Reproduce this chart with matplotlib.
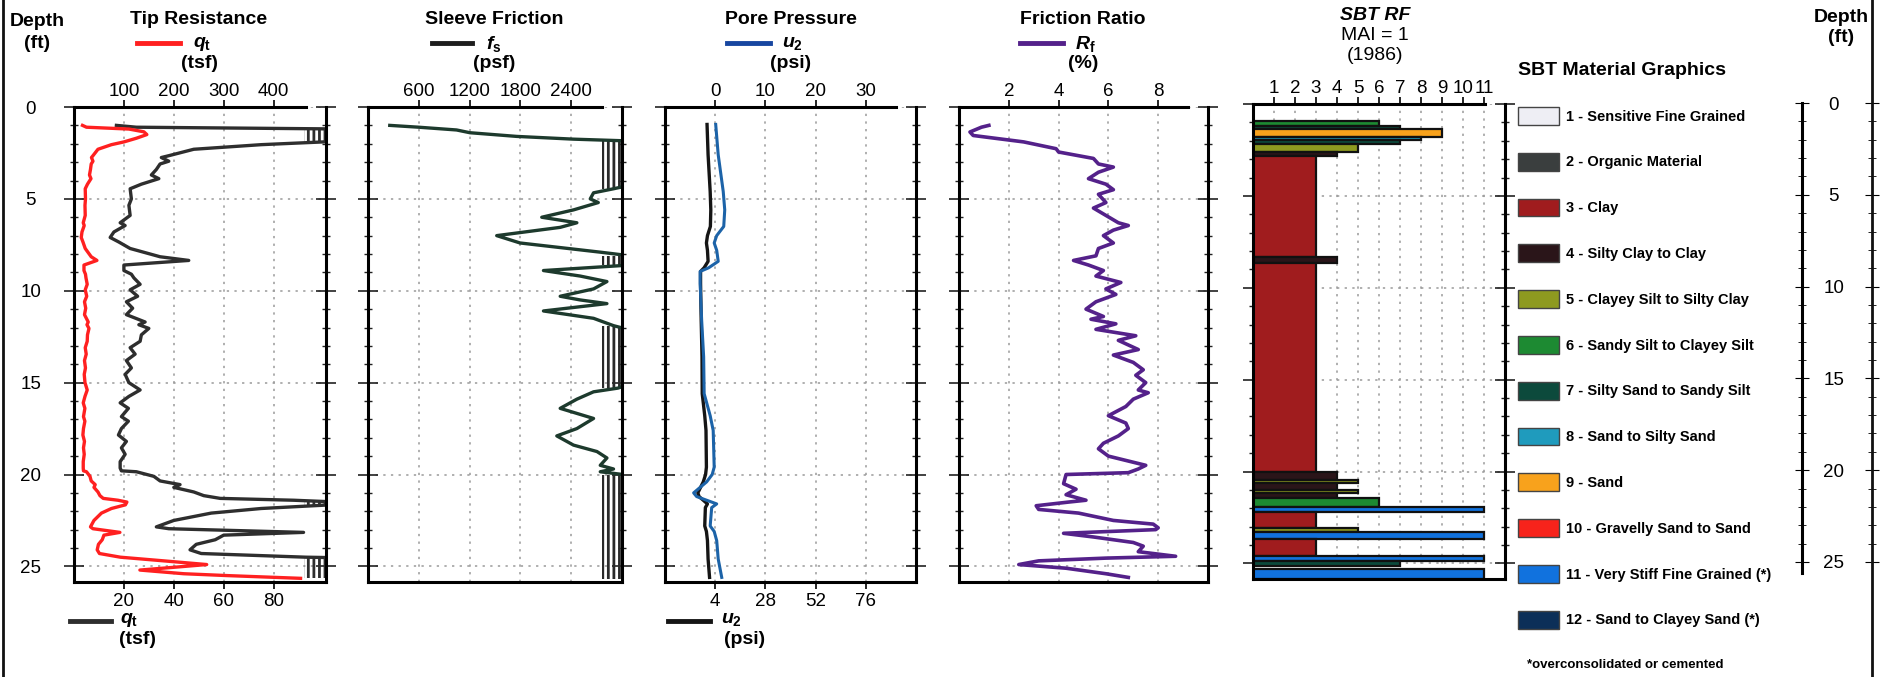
import numpy as np
import matplotlib.pyplot as plt
from matplotlib.lines import Line2D
from matplotlib.patches import Patch
from matplotlib.ticker import MultipleLocator, FixedLocator

plt.rcParams['font.family'] = ['Liberation Sans', 'DejaVu Sans']
plt.rcParams['mathtext.fontset'] = 'custom'
plt.rcParams['mathtext.it'] = 'Liberation Sans:italic:bold'
plt.rcParams['mathtext.rm'] = 'Liberation Sans:bold'
plt.rcParams['hatch.linewidth'] = 2.0

qt_depth = np.array([1.0, 1.1, 1.2, 1.35, 1.5, 1.7, 1.9, 2.05, 2.3, 2.65, 2.75, 2.95, 3.1, 3.4, 3.7,
                     3.9, 4.2, 4.45, 5.0, 5.35, 5.9, 6.3, 6.45, 6.8, 7.1, 7.35, 7.7, 8.15, 8.35, 8.6,
                     8.9, 9.1, 9.3, 9.65, 9.95, 10.3, 10.6, 10.95, 11.3, 11.7, 11.85, 12.05, 12.4, 12.75,
                     13.1, 13.45, 13.8, 14.2, 14.55, 15.0, 15.4, 15.75, 16.1, 16.4, 16.85, 17.1, 17.5,
                     17.85, 18.2, 18.55, 18.9, 19.3, 19.65, 19.8, 19.85, 20.1, 20.35, 20.55, 20.7, 20.95,
                     21.15, 21.3, 21.4, 21.5, 21.65, 21.85, 22.1, 22.5, 22.85, 22.95, 23.15, 23.3, 23.55,
                     23.8, 24.1, 24.3, 24.5, 24.7, 24.9, 25.05, 25.2, 25.4, 25.5, 25.65])
qt = np.array([17, 25, 110, 140, 146, 125, 100, 75, 48, 38, 35, 38, 34.5, 33, 31,
               34, 27, 22.5, 23, 22, 22.5, 18.5, 20.5, 16, 14.5, 18, 22.5, 34.5, 46, 20,
               20, 23, 24, 26.5, 22.5, 25.5, 21, 23.5, 21, 28.5, 26, 30, 27, 26.5,
               22.5, 24.5, 21, 23, 20.5, 22, 26.5, 22, 18.5, 21.8, 19, 21.8, 19,
               17.8, 21, 19, 20.5, 18.5, 18.5, 19, 25, 32, 34.5, 42.5, 40, 48,
               52, 58.6, 88, 106, 103, 75, 55, 40, 33, 38, 92, 60, 56.6,
               49, 46.5, 51, 93, 180, 266, 200, 132, 220, 306, 454])

fs_depth = np.array([1.0, 1.1, 1.25, 1.4, 1.6, 1.75, 1.85, 2.5, 3.5, 4.35, 4.45, 4.67, 5.0, 5.2, 5.6,
                     6.0, 6.3, 6.55, 7.0, 7.4, 7.65, 7.9, 8.1, 8.6, 8.9, 9.2, 9.5, 9.9, 10.3, 10.5,
                     10.7, 11.1, 11.5, 11.9, 12.2, 13.5, 15.0, 15.3, 15.5, 15.9, 16.4, 16.95, 17.5,
                     17.9, 18.4, 18.75, 19.1, 19.5, 19.7, 19.85, 20.05, 22.0, 24.0, 25.7])
fs = np.array([257, 600, 1046, 1204, 1756, 2427, 3100, 3200, 3150, 3000, 2900, 2664, 2625, 2720, 2427,
               2052, 2467, 2270, 1520, 1796, 2270, 2743, 3100, 3100, 2072, 2506, 2822, 2664, 2270, 2506,
               2822, 2072, 2664, 2900, 3150, 3200, 3150, 2950, 2664, 2467, 2270, 2664, 2467,
               2230, 2427, 2704, 2822, 2743, 2900, 2743, 3100, 3200, 3150, 3200])

u2_depth = np.array([0.95, 2.6, 4.6, 5.6, 6.5, 7.0, 7.4, 7.8, 8.4, 8.75, 8.95, 9.6, 11.6, 13.6, 15.6,
                     16.8, 17.6, 19.6, 20.0, 20.4, 20.7, 21.0, 21.2, 21.4, 21.6, 21.8, 22.8, 23.1,
                     23.6, 24.6, 25.6])
u2 = np.array([0.1, 0.6, 1.6, 1.9, 1.7, 0.3, -0.2, 0.3, 0.6, -1.3, -3.0, -3.0, -2.7, -2.3, -2.2,
               -1.0, -0.4, -0.2, -0.6, -1.7, -3.0, -4.3, -3.7, -1.7, 0.3, -0.7, -1.0, -0.2,
               0.3, 0.6, 1.3])

rf_depth = np.array([1.0, 1.1, 1.36, 1.55, 1.9, 2.27, 2.45, 2.8, 3.1, 3.27, 3.55, 3.9, 4.2, 4.5, 4.75,
                     5.2, 5.5, 5.9, 6.3, 6.45, 6.7, 7.0, 7.4, 7.7, 8.1, 8.35, 8.6, 8.9, 9.2, 9.55,
                     9.9, 10.2, 10.6, 11.0, 11.4, 11.55, 11.8, 12.1, 12.45, 12.7, 13.2, 13.5, 13.9,
                     14.3, 14.6, 15.0, 15.4, 15.55, 15.9, 16.3, 16.8, 17.2, 17.5, 17.9, 18.3, 18.6,
                     19.0, 19.4, 19.5, 19.7, 19.9, 20.0, 20.5, 20.8, 21.1, 21.4, 21.5, 21.7, 21.9,
                     22.1, 22.5, 22.7, 22.9, 23.0, 23.2, 23.4, 23.7, 23.9, 24.2, 24.45, 24.55, 24.7,
                     24.9, 25.1, 25.4, 25.6])
rf = np.array([1.2, 0.9, 0.44, 0.57, 2.6, 3.9, 4.0, 5.4, 5.6, 6.2, 5.6, 5.2, 5.9, 6.2, 5.6,
               5.9, 5.4, 5.9, 6.4, 6.8, 6.2, 5.8, 6.2, 5.6, 5.5, 4.6, 5.2, 5.8, 5.5, 6.5,
               5.9, 6.3, 5.5, 5.1, 5.8, 5.3, 6.3, 5.5, 7.1, 6.4, 7.2, 6.2, 7.0,
               7.4, 7.1, 7.5, 7.2, 7.6, 7.0, 6.7, 6.0, 6.7, 6.8, 6.4, 5.8, 5.6,
               6.0, 7.2, 7.5, 7.2, 6.8, 4.3, 4.2, 4.7, 4.3, 5.1, 4.4, 3.1, 3.2,
               4.8, 6.2, 7.8, 8.0, 7.9, 4.2, 5.4, 7.0, 7.4, 7.2, 8.7, 5.9, 3.2,
               2.4, 4.3, 5.9, 6.8])

sbt_top = np.array([0.95, 1.2, 1.35, 1.8, 1.95, 2.15, 2.6, 2.85, 8.35, 8.65, 20.0, 20.45, 20.65,
                    21.0, 21.15, 21.45, 21.95, 22.2, 23.1, 23.3, 23.7, 24.6, 24.85, 25.3])
sbt_bot = np.array([1.2, 1.35, 1.8, 1.95, 2.15, 2.6, 2.85, 8.35, 8.65, 20.0, 20.45, 20.65, 21.0,
                    21.15, 21.45, 21.95, 22.2, 23.1, 23.3, 23.7, 24.6, 24.85, 25.15, 25.85])
sbt_zone = np.array([6, 7, 9, 8, 7, 5, 4, 3, 4, 3, 4, 5, 4, 5, 4, 6, 11, 3, 5, 11, 3, 11, 7, 11])

zone_labels = ['1 - Sensitive Fine Grained', '2 - Organic Material', '3 - Clay',
               '4 - Silty Clay to Clay', '5 - Clayey Silt to Silty Clay',
               '6 - Sandy Silt to Clayey Silt', '7 - Silty Sand to Sandy Silt',
               '8 - Sand to Silty Sand', '9 - Sand', '10 - Gravelly Sand to Sand',
               '11 - Very Stiff Fine Grained (*)', '12 - Sand to Clayey Sand (*)']
zone_colors = ['#eeeef4', '#3a3e3e', '#a01c1e', '#2a1519', '#8e9a20', '#1d8a32',
               '#0c4a3c', '#1f9bbd', '#f8a21c', '#f7231b', '#1172de', '#0c2f58']

# ---- layout ----
W, H = 1887, 677
fig = plt.figure(figsize=(W / 100, H / 100), dpi=100)
TICK = 13.5
DMAX = 25.85


def box(x0, y0, x1, y1):
    return [x0 / W, 1 - y1 / H, (x1 - x0) / W, (y1 - y0) / H]


def panel(x0, x1, y0=107, y1=582):
    ax = fig.add_axes(box(x0, y0, x1, y1))
    ax.set_ylim(DMAX, 0)
    ax.yaxis.set_major_locator(MultipleLocator(5))
    ax.yaxis.set_minor_locator(MultipleLocator(1))
    ax.tick_params(axis='y', which='both', left=True, right=True, labelleft=False,
                   direction='inout', color='#222')
    ax.tick_params(axis='y', which='major', length=14, width=1.2)
    ax.tick_params(axis='y', which='minor', length=6, width=1.0)
    ax.tick_params(axis='x', labelsize=TICK, length=5, width=1.2, pad=3)
    for s in ax.spines.values():
        s.set_linewidth(2.2)
    ax.grid(True, which='major', color='#9a9a9a', linestyle=(0, (1.5, 3.5)), linewidth=1.1)
    ax.set_axisbelow(True)
    return ax


def top_axis(ax, lo, hi, ticks):
    # x axis on top, spine drawn only over ~92 % of the width like the original log
    ax.set_xlim(lo, hi)
    ax.xaxis.set_major_locator(FixedLocator(ticks))
    ax.xaxis.tick_top()
    ax.spines['top'].set_bounds(lo, lo + 0.92 * (hi - lo))
    ax.tick_params(axis='x', top=True, labeltop=True, pad=0)


def header(cx, title, sym, unit, color, lx0, lx1, sx):
    fig.text(cx / W, 1 - 20 / H, title, ha='center', va='center', fontsize=14, fontweight='bold')
    fig.add_artist(Line2D([lx0 / W, lx1 / W], [1 - 43 / H] * 2, color=color, lw=3.5))
    fig.text(sx / W, 1 - 44 / H, sym, ha='left', va='center', fontsize=14)
    fig.text(cx / W, 1 - 64 / H, unit, ha='center', va='center', fontsize=14, fontweight='bold')


# Tip resistance
ax1 = panel(74, 326)
ax1.set_xlim(0, 101)
ax1.xaxis.set_major_locator(FixedLocator([20, 40, 60, 80]))
ax1.spines['top'].set_visible(False)
ax1.plot(qt, qt_depth, color='#2e2e2e', lw=2.4, clip_on=True)
ax1.fill_betweenx(qt_depth, 92, 100.5, where=qt > 92, facecolor='none', edgecolor='#2e2e2e',
                  hatch='|||', linewidth=0)
ax1.tick_params(axis='y', labelleft=True, labelsize=TICK, pad=24)
for lbl in ax1.get_yticklabels():
    lbl.set_horizontalalignment('center')
ax1t = ax1.twiny()
top_axis(ax1t, 0, 505, [100, 200, 300, 400])
for s in ['left', 'right', 'bottom']:
    ax1t.spines[s].set_visible(False)
ax1t.spines['top'].set_linewidth(2.2)
ax1t.tick_params(axis='x', labelsize=TICK, length=5, width=1.2)
ax1t.plot(qt, qt_depth, color='#ff2020', lw=2.4)
header(199, 'Tip Resistance', r'$q_\mathrm{t}$', '(tsf)', '#ff2020', 137, 180, 193)
fig.add_artist(Line2D([70 / W, 111 / W], [1 - 621 / H] * 2, color='#2e2e2e', lw=3.5))
fig.text(120 / W, 1 - 620 / H, r'$q_\mathrm{t}$', ha='left', va='center', fontsize=14)
fig.text(138 / W, 1 - 639 / H, '(tsf)', ha='center', va='center', fontsize=14, fontweight='bold')

# Sleeve friction
ax2 = panel(368, 622)
top_axis(ax2, 0, 3000, [600, 1200, 1800, 2400])
ax2.tick_params(axis='x', bottom=False)
ax2.plot(fs, fs_depth, color='#1d3a2d', lw=2.4)
ax2.fill_betweenx(fs_depth, 2760, 2990, where=fs > 2760, facecolor='none', edgecolor='#2a2a2a',
                  hatch='|||', linewidth=0)
header(494, 'Sleeve Friction', r'$f_\mathrm{s}$', '(psf)', '#1d1d1d', 432, 472, 486)

# Pore pressure
ax3 = panel(665, 916)
ax3.set_xlim(-20, 100)
ax3.xaxis.set_major_locator(FixedLocator([4, 28, 52, 76]))
ax3.spines['top'].set_visible(False)
ax3.plot(u2, u2_depth, color='#151515', lw=2.4)
ax3t = ax3.twiny()
top_axis(ax3t, -10, 40, [0, 10, 20, 30])
for s in ['left', 'right', 'bottom']:
    ax3t.spines[s].set_visible(False)
ax3t.spines['top'].set_linewidth(2.2)
ax3t.tick_params(axis='x', labelsize=TICK, length=5, width=1.2)
ax3t.plot(u2, u2_depth, color='#1c63a8', lw=2.2)
header(791, 'Pore Pressure', r'$u_\mathrm{2}$', '(psi)', '#1746a0', 727, 770, 782)
fig.add_artist(Line2D([668 / W, 710 / W], [1 - 621 / H] * 2, color='#151515', lw=3.5))
fig.text(721 / W, 1 - 619 / H, r'$u_\mathrm{2}$', ha='left', va='center', fontsize=14)
fig.text(745 / W, 1 - 639 / H, '(psi)', ha='center', va='center', fontsize=14, fontweight='bold')

# Friction ratio
ax4 = panel(959, 1208)
top_axis(ax4, 0, 10, [2, 4, 6, 8])
ax4.tick_params(axis='x', bottom=False)
ax4.plot(rf, rf_depth, color='#54218a', lw=2.6)
header(1083, 'Friction Ratio', r'$R_\mathrm{f}$', '(%)', '#54218a', 1020, 1063, 1075)

# SBT RF
ax5 = panel(1253, 1505, 104, 579)
top_axis(ax5, 0, 12, list(range(1, 12)))
ax5.tick_params(axis='x', bottom=False)
ax5.barh(sbt_top, sbt_zone, height=sbt_bot - sbt_top, left=0, align='edge',
         color=[zone_colors[z - 1] for z in sbt_zone], edgecolor='#111', linewidth=1.6)
fig.text(1375 / W, 1 - 16 / H, 'SBT RF', ha='center', va='center', fontsize=14,
         fontweight='bold', fontstyle='italic')
fig.text(1375 / W, 1 - 35 / H, 'MAI = 1', ha='center', va='center', fontsize=14)
fig.text(1375 / W, 1 - 55 / H, '(1986)', ha='center', va='center', fontsize=14)

# legend of soil behaviour types
handles = [Patch(facecolor=c, edgecolor='#444', linewidth=1) for c in zone_colors]
fig.legend(handles, zone_labels, loc='upper left', bbox_to_anchor=(1518 / W, 1 - 62 / H),
           frameon=False, prop=dict(weight='bold', size=10.5),
           title='SBT Material Graphics', title_fontproperties=dict(weight='bold', size=14),
           alignment='left', handlelength=2.8, handleheight=1.5, labelspacing=1.92,
           handletextpad=0.5, borderpad=0, borderaxespad=0)
fig.text(1527 / W, 1 - 665 / H, '*overconsolidated or cemented', ha='left', va='center',
         fontsize=9.5, fontweight='bold')

# depth headers, right depth scale and page borders
fig.text(37 / W, 1 - 21 / H, 'Depth', ha='center', va='center', fontsize=14, fontweight='bold')
fig.text(37 / W, 1 - 43 / H, '(ft)', ha='center', va='center', fontsize=14, fontweight='bold')
fig.text(1841 / W, 1 - 17 / H, 'Depth', ha='center', va='center', fontsize=14, fontweight='bold')
fig.text(1841 / W, 1 - 38 / H, '(ft)', ha='center', va='center', fontsize=14, fontweight='bold')

axr = fig.add_axes(box(1802, 103, 1872, 573))
axr.set_ylim(25.6, 0)
axr.set_xticks([])
axr.yaxis.set_major_locator(MultipleLocator(5))
axr.yaxis.set_minor_locator(MultipleLocator(1))
axr.tick_params(axis='y', which='both', left=True, right=True, direction='inout',
                labelsize=TICK, pad=-28)
axr.tick_params(axis='y', which='major', length=10)
axr.tick_params(axis='y', which='minor', length=6)
for lbl in axr.get_yticklabels():
    lbl.set_horizontalalignment('center')
axr.spines['top'].set_visible(False)
axr.spines['bottom'].set_visible(False)
axr.spines['left'].set_linewidth(2.2)
axr.spines['right'].set_visible(False)
axr.patch.set_visible(False)

for bx in (3, 1872):
    fig.add_artist(Line2D([bx / W, bx / W], [0, 1], color='#111', lw=2))

fig.savefig('out.png', dpi=100)
